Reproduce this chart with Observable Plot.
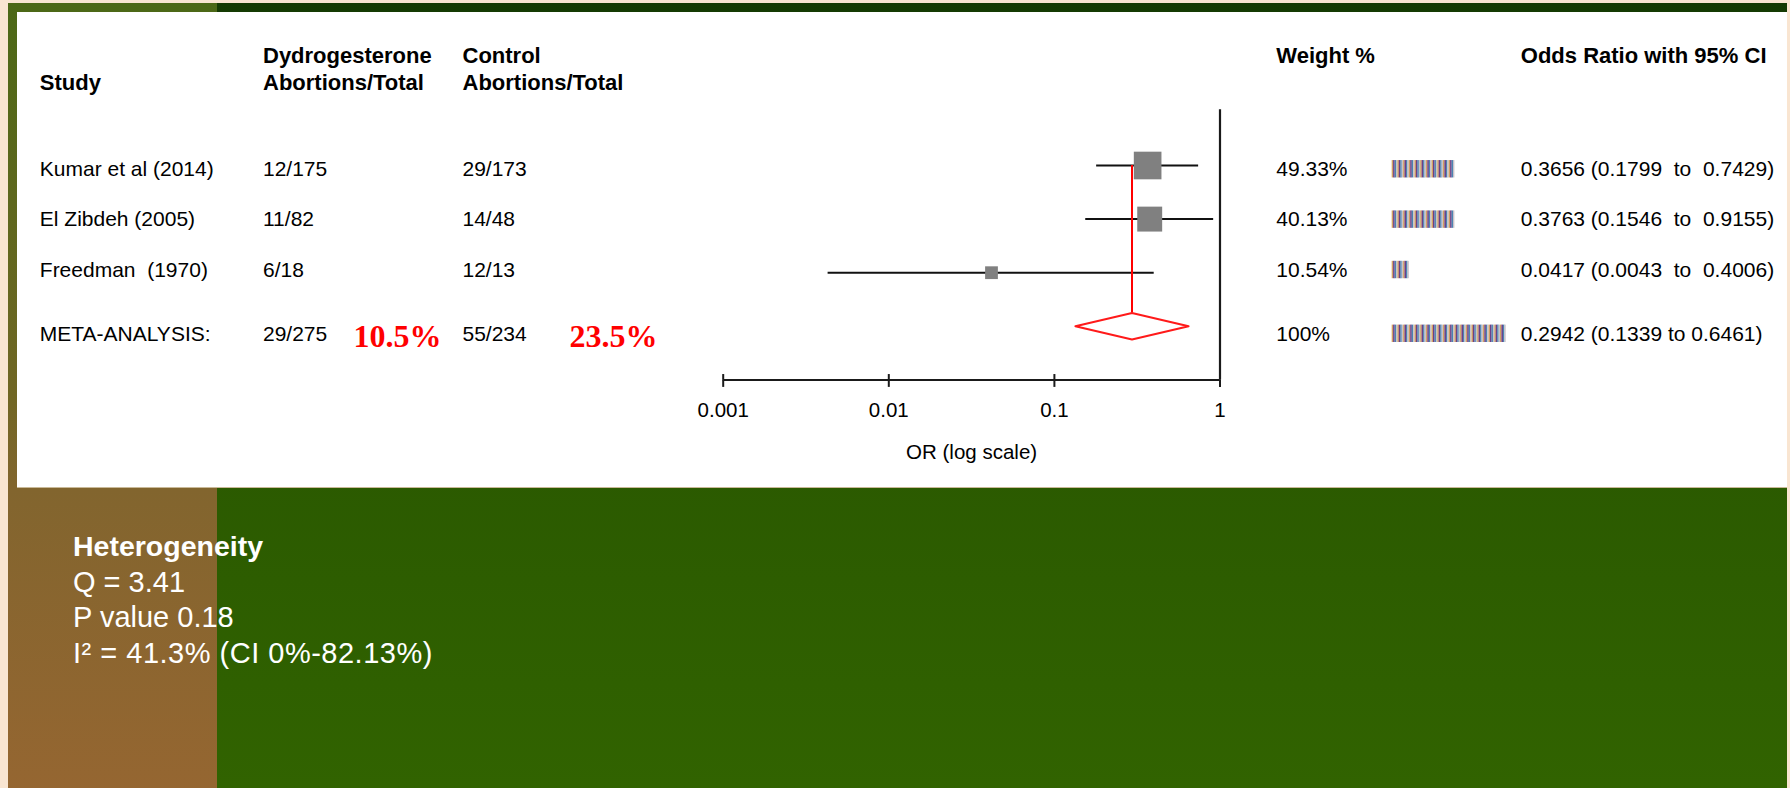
<!DOCTYPE html>
<html>
<head>
<meta charset="utf-8">
<script src="https://cdn.jsdelivr.net/npm/d3@7"></script>
<script src="https://cdn.jsdelivr.net/npm/@observablehq/plot@0.6"></script>
<style>
  html, body { margin: 0; padding: 0; }
  body {
    width: 1790px; height: 788px; position: relative; overflow: hidden;
    background: #f9e5d1;
    font-family: "Liberation Sans", Arial, sans-serif;
  }
  .band-left {
    position: absolute; left: 8px; top: 3px; width: 209px; height: 785px;
    background: linear-gradient(to bottom, #4b6816 0%, #706624 50%, #82652e 62%, #956631 100%);
  }
  .band-right {
    position: absolute; left: 217px; top: 3px; width: 1570px; height: 785px;
    background: linear-gradient(to bottom, #143a03 0%, #2b5a00 60%, #316300 100%);
  }
  #chart {
    position: absolute; left: 17px; top: 12px; width: 1770px; height: 475px;
    background: #fff; box-shadow: 0 1px 0 #c9b998;
  }
  #chart svg { display: block; }
  #chart text { white-space: pre; }
  #heterogeneity {
    position: absolute; left: 73px; top: 529px;
    color: #fff; font-size: 29px; line-height: 35.5px;
  }
  #heterogeneity .title { font-weight: bold; font-size: 28.5px; }
  #heterogeneity .wide { letter-spacing: 0.5px; }
</style>
</head>
<body>
<div class="band-left"></div>
<div class="band-right"></div>
<div id="chart"></div>
<div id="heterogeneity"></div>
<script>
// ---- study data -------------------------------------------------------
const studies = ["Kumar et al (2014)", "El Zibdeh (2005)", "Freedman  (1970)"];
const dydroEvents = [12, 11, 6];
const dydroTotals = [175, 82, 18];
const controlEvents = [29, 14, 12];
const controlTotals = [173, 48, 13];
const weights = [49.33, 40.13, 10.54];          // weight %
const oddsRatios = [0.3656, 0.3763, 0.0417];
const ciLower = [0.1799, 0.1546, 0.0043];
const ciUpper = [0.7429, 0.9155, 0.4006];
const weightGlyphCounts = [11, 11, 3];          // number of "|" marks in the weight bar

// ---- pooled (meta-analysis) result --------------------------------------
const pooledLabel = "META-ANALYSIS:";
const pooledWeight = 100;
const pooledOR = 0.2942;
const pooledLower = 0.1339;
const pooledUpper = 0.6461;
const pooledGlyphCount = 20;

// ---- heterogeneity statistics ------------------------------------------
const heterogeneityLines = ["Heterogeneity", "Q = 3.41", "P value 0.18", "I\u00b2 = 41.3% (CI 0%-82.13%)"];

// ---- axis ---------------------------------------------------------------
const axisTicks = [0.001, 0.01, 0.1, 1];
const axisLabel = "OR (log scale)";

// ---- headers ------------------------------------------------------------
const headers = {
  study: ["", "Study"],
  dydro: ["Dydrogesterone", "Abortions/Total"],
  control: ["Control", "Abortions/Total"],
  weight: ["Weight %", ""],
  or: ["Odds Ratio with 95% CI", ""]
};

// ---- layout -------------------------------------------------------------
const SANS = "'Liberation Sans', Arial, Helvetica, sans-serif";
const SERIF = "'Liberation Serif', 'Times New Roman', serif";
const W = 1770, H = 475;
const AXIS_LEFT = 705.7, AXIS_RIGHT = 1202.5;     // pixel span of the OR axis
const FRAME_TOP = 97.3;                            // top of the line of no effect
const ROW_TOP = 153, ROW_STEP = 53.6;              // forest rows in pixels
const AXIS_ROW = 4;                                // the OR axis sits one row below the diamond
const META_ROW = 3;
const DIAMOND_HALF = 0.248;
const TICK_UP = 0.1;
const tableRow = i => 0.07 + 0.94 * i;             // text rows run slightly tighter
const META_TABLE_ROW = 3.14;
const HEADER_Y = [43.5, 70.5];
const COL = {study: 22.3, dydro: 245.5, dydroPct: 336, control: 445, controlPct: 552,
             weight: 1258.8, bars: 1374.7, or: 1503.3};
const STRIPE = 5.7;
const STRIPE_BANDS = [[0, 1.5, "#d2a062"], [1.4, 1.6, "#6e3f88"], [2.9, 1.5, "#4a84b2"], [4.3, 1.4, "#c9c3c9"]];
const BAR_H = 17.4;

const f4 = d3.format(".4f");
const pct1 = d3.format(".1%");

const studyRows = studies.map((name, i) => ({
  name, i,
  tableY: tableRow(i),
  dydro: `${dydroEvents[i]}/${dydroTotals[i]}`,
  control: `${controlEvents[i]}/${controlTotals[i]}`,
  weight: weights[i],
  weightText: `${weights[i]}%`,
  or: oddsRatios[i], lo: ciLower[i], hi: ciUpper[i],
  glyphs: weightGlyphCounts[i],
  orText: `${f4(oddsRatios[i])} (${f4(ciLower[i])}  to  ${f4(ciUpper[i])})`
}));

const dydroSum = d3.sum(dydroEvents), dydroN = d3.sum(dydroTotals);
const controlSum = d3.sum(controlEvents), controlN = d3.sum(controlTotals);
const metaRow = {
  name: pooledLabel,
  tableY: META_TABLE_ROW,
  dydro: `${dydroSum}/${dydroN}`,
  control: `${controlSum}/${controlN}`,
  dydroPct: pct1(dydroSum / dydroN),
  controlPct: pct1(controlSum / controlN),
  weightText: `${pooledWeight}%`,
  or: pooledOR, lo: pooledLower, hi: pooledUpper,
  glyphs: pooledGlyphCount,
  orText: `${f4(pooledOR)} (${f4(pooledLower)} to ${f4(pooledUpper)})`
};
const tableRows = [...studyRows, metaRow];

const diamond = [
  {x: pooledLower, y: META_ROW},
  {x: pooledOR, y: META_ROW - DIAMOND_HALF},
  {x: pooledUpper, y: META_ROW},
  {x: pooledOR, y: META_ROW + DIAMOND_HALF}
];

// text column placed relative to the left edge of the plot frame
const column = (text, x, opts = {}) => Plot.text(tableRows, {
  y: "tableY", text, frameAnchor: "left", dx: x - AXIS_LEFT,
  textAnchor: "start", lineAnchor: "middle", fontSize: 21, fill: "#000", ...opts
});
const header = (lines, x) => lines.map((t, k) => t ? Plot.text([t], {
  text: d => d, frameAnchor: "top-left", dx: x - AXIS_LEFT, dy: HEADER_Y[k] - FRAME_TOP,
  textAnchor: "start", lineAnchor: "middle", fontSize: 22, fontWeight: "bold", fill: "#000"
}) : null).filter(Boolean);

// striped text-style weight bars
function weightBars(index, scales) {
  const g = d3.create("svg:g").attr("aria-label", "weight bars");
  for (const row of tableRows) {
    const cy = scales.y(row.tableY);
    for (let k = 0; k < row.glyphs; k++) {
      const x0 = COL.bars + k * STRIPE;
      for (const [off, w, c] of STRIPE_BANDS) {
        g.append("rect").attr("x", x0 + off).attr("y", cy - BAR_H / 2)
          .attr("width", w).attr("height", BAR_H).attr("fill", c);
      }
    }
  }
  return g.node();
}

const chart = Plot.plot({
  width: W, height: H,
  marginLeft: AXIS_LEFT, marginRight: W - AXIS_RIGHT,
  marginTop: FRAME_TOP, marginBottom: H - (ROW_TOP + AXIS_ROW * ROW_STEP),
  style: {background: "transparent", color: "#000", fontFamily: SANS, overflow: "visible"},
  x: {type: "log", domain: [axisTicks[0], axisTicks[axisTicks.length - 1]]},
  y: {type: "linear", domain: [0, AXIS_ROW], range: [ROW_TOP, ROW_TOP + AXIS_ROW * ROW_STEP], axis: null},
  r: {type: "sqrt", domain: [0, d3.max(weights)], range: [0, 15.6]},
  marks: [
    // headers
    ...header(headers.study, COL.study),
    ...header(headers.dydro, COL.dydro),
    ...header(headers.control, COL.control),
    ...header(headers.weight, COL.weight),
    ...header(headers.or, COL.or),
    // table columns
    column("name", COL.study),
    column("dydro", COL.dydro),
    column("control", COL.control),
    column("weightText", COL.weight),
    column("orText", COL.or),
    Plot.text([metaRow], {y: "tableY", text: "dydroPct", frameAnchor: "left", dx: COL.dydroPct - AXIS_LEFT, dy: 3,
      textAnchor: "start", lineAnchor: "middle", fontFamily: SERIF, fontWeight: "bold", fontSize: 32, fill: "#ff0000"}),
    Plot.text([metaRow], {y: "tableY", text: "controlPct", frameAnchor: "left", dx: COL.controlPct - AXIS_LEFT, dy: 3,
      textAnchor: "start", lineAnchor: "middle", fontFamily: SERIF, fontWeight: "bold", fontSize: 32, fill: "#ff0000"}),
    weightBars,
    // forest
    Plot.ruleY(studyRows, {y: "i", x1: "lo", x2: "hi", stroke: "#111", strokeWidth: 2}),
    Plot.ruleX([metaRow], {x: "or", y1: 0, y2: META_ROW - DIAMOND_HALF, stroke: "#ff0000", strokeWidth: 2}),
    Plot.dot(studyRows, {x: "or", y: "i", r: "weight", symbol: "square", fill: "#808080", stroke: "none"}),
    Plot.line(diamond, {x: "x", y: "y", curve: "linear-closed", stroke: "#ff1a1a", fill: "#fff", strokeWidth: 2}),
    // line of no effect and axis
    Plot.ruleX([1], {stroke: "#1a1a1a", strokeWidth: 2.2}),
    Plot.ruleY([AXIS_ROW], {x1: axisTicks[0], x2: axisTicks[axisTicks.length - 1], stroke: "#1a1a1a", strokeWidth: 2}),
    Plot.ruleX(axisTicks, {x: d => d, y1: AXIS_ROW - TICK_UP, y2: AXIS_ROW, stroke: "#1a1a1a", strokeWidth: 2}),
    Plot.axisX({ticks: axisTicks, tickFormat: d => String(d), tickSize: 7.5, tickPadding: 15.5,
      strokeWidth: 2, stroke: "#1a1a1a", fontSize: 20.5, fill: "#000", label: null}),
    Plot.text([axisLabel], {text: d => d, frameAnchor: "bottom", lineAnchor: "middle", dy: 72.3, fontSize: 20.5, fill: "#000"})
  ]
});
document.getElementById("chart").append(chart);

// heterogeneity summary below the plot
const het = d3.select("#heterogeneity");
heterogeneityLines.forEach((t, k) => het.append("div")
  .attr("class", k === 0 ? "title" : k === heterogeneityLines.length - 1 ? "wide" : null)
  .text(t));
</script>
</body>
</html>
